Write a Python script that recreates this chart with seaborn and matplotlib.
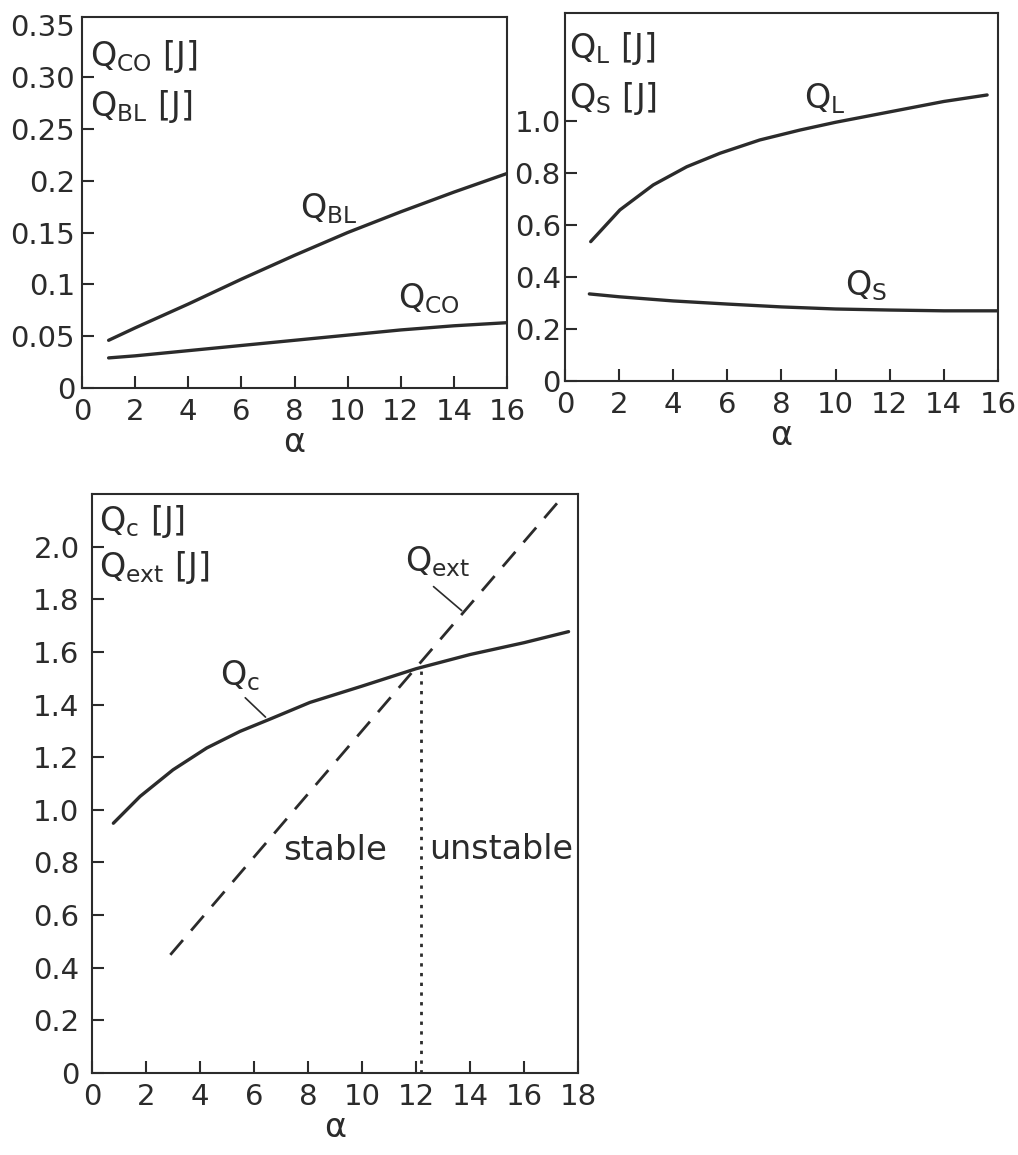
import numpy as np
import matplotlib
matplotlib.use("Agg")
import matplotlib.pyplot as plt
import seaborn as sns

# ---- data: heat quantities [J] against alpha ----
alpha_bl = [1, 2, 4, 6, 8, 10, 12, 14, 16]
q_bl = [0.046, 0.058, 0.081, 0.105, 0.128, 0.150, 0.170, 0.189, 0.207]
alpha_co = [1, 2, 4, 6, 8, 10, 12, 14, 16]
q_co = [0.029, 0.031, 0.036, 0.041, 0.046, 0.051, 0.056, 0.060, 0.063]

alpha_l = [0.95, 2.03, 3.26, 4.5, 5.73, 7.2, 8.68, 10, 12, 14, 15.6]
q_l = [0.536, 0.658, 0.754, 0.824, 0.876, 0.927, 0.965, 0.995, 1.035, 1.075, 1.10]
alpha_s = [0.9, 2, 4, 6, 8, 10, 12, 14, 16]
q_s = [0.335, 0.324, 0.308, 0.296, 0.285, 0.277, 0.273, 0.270, 0.270]

alpha_c = [0.79, 1.78, 3.0, 4.25, 5.48, 6.6, 8.07, 10, 12, 14, 16, 17.65]
q_c = [0.949, 1.051, 1.152, 1.235, 1.298, 1.345, 1.408, 1.47, 1.536, 1.59, 1.635, 1.677]
alpha_ext = [2.9, 12.0, 17.6]
q_ext = [0.449, 1.54, 2.21]
alpha_crit = 12.2

# tick positions and labels
xt_top = list(range(0, 17, 2))
xt_bottom = list(range(0, 19, 2))
yt_a = [0, 0.05, 0.1, 0.15, 0.2, 0.25, 0.30, 0.35]
yl_a = ["0", "0.05", "0.1", "0.15", "0.2", "0.25", "0.30", "0.35"]
yt_b = [0, 0.2, 0.4, 0.6, 0.8, 1.0]
yl_b = ["0", "0.2", "0.4", "0.6", "0.8", "1.0"]
yt_c = [0, 0.2, 0.4, 0.6, 0.8, 1.0, 1.2, 1.4, 1.6, 1.8, 2.0]
yl_c = ["0", "0.2", "0.4", "0.6", "0.8", "1.0", "1.2", "1.4", "1.6", "1.8", "2.0"]

sns.set_theme(style="white")
plt.rcParams["font.family"] = ["DejaVu Sans"]
plt.rcParams["mathtext.fontset"] = "dejavusans"
plt.rcParams["mathtext.default"] = "regular"

ink = "#2b2b2b"
fig = plt.figure(figsize=(10.18, 11.55), dpi=100)
fig.patch.set_facecolor("white")

ax1 = fig.add_axes([0.0806, 0.6641, 0.4175, 0.3212])
ax2 = fig.add_axes([0.5550, 0.6701, 0.4253, 0.3186])
ax3 = fig.add_axes([0.0904, 0.0710, 0.4774, 0.5013])


def style_axes(ax, xticks, yticks, ylabels, ylim, xlim, ypad):
    ax.set_xlim(*xlim)
    ax.set_ylim(*ylim)
    ax.set_xticks(xticks)
    ax.set_xticklabels([str(t) for t in xticks])
    ax.set_yticks(yticks)
    ax.set_yticklabels(ylabels)
    for sp in ax.spines.values():
        sp.set_visible(True)
        sp.set_color(ink)
        sp.set_linewidth(1.5)
    ax.tick_params(axis="both", which="major", direction="in", length=8.5,
                   width=1.5, color=ink, labelcolor=ink, labelsize=21,
                   bottom=True, left=True, top=False, right=False)
    ax.tick_params(axis="x", pad=7)
    ax.tick_params(axis="y", pad=ypad)
    ax.set_xlabel("α", fontsize=24, color=ink, labelpad=0)
    ax.set_ylabel("")
    ax.grid(False)
    ax.set_facecolor("white")


def label(ax, x, y, s, size=24):
    ax.text(x, y, s, fontsize=size, color=ink, ha="left", va="baseline")


# ---- panel 1: Q_BL and Q_CO ----
sns.lineplot(x=alpha_bl, y=q_bl, ax=ax1, color=ink, lw=2.4)
sns.lineplot(x=alpha_co, y=q_co, ax=ax1, color=ink, lw=2.4)
style_axes(ax1, xt_top, yt_a, yl_a, (0, 0.358), (0, 16), 5)
ax1.yaxis.get_major_ticks()[-1].tick1line.set_visible(False)
label(ax1, 0.3, 0.311, "$Q_{CO}$ [J]")
label(ax1, 0.3, 0.2626, "$Q_{BL}$ [J]")
label(ax1, 8.2, 0.1635, "$Q_{BL}$")
label(ax1, 11.9, 0.077, "$Q_{CO}$")

# ---- panel 2: Q_L and Q_S ----
sns.lineplot(x=alpha_l, y=q_l, ax=ax2, color=ink, lw=2.4)
sns.lineplot(x=alpha_s, y=q_s, ax=ax2, color=ink, lw=2.4)
style_axes(ax2, xt_top, yt_b, yl_b, (0, 1.415), (0, 16), 3)
label(ax2, 0.15, 1.242, "$Q_{L}$ [J]")
label(ax2, 0.15, 1.05, "$Q_{S}$ [J]")
label(ax2, 8.85, 1.05, "$Q_{L}$")
label(ax2, 10.33, 0.331, "$Q_{S}$")

# ---- panel 3: Q_c against Q_ext, stability limit ----
sns.lineplot(x=alpha_c, y=q_c, ax=ax3, color=ink, lw=2.4)
sns.lineplot(x=alpha_ext, y=q_ext, ax=ax3, color=ink, lw=2.0,
             linestyle=(0, (7, 4.5)))
q_crit = float(np.interp(alpha_crit, alpha_c, q_c))
ax3.vlines(alpha_crit, 0, q_crit, colors=ink, linewidth=2.0,
           linestyles=(0, (1.2, 2.3)))
style_axes(ax3, xt_bottom, yt_c, yl_c, (0, 2.2), (0, 18), 9)
label(ax3, 0.26, 2.06, "$Q_{c}$ [J]")
label(ax3, 0.26, 1.886, "$Q_{ext}$ [J]")
label(ax3, 4.74, 1.475, "$Q_{c}$")
label(ax3, 11.6, 1.905, "$Q_{ext}$")
label(ax3, 7.09, 0.81, "stable", size=24.5)
label(ax3, 12.5, 0.813, "unstable", size=24)
ax3.annotate("", xy=(6.5, 1.345), xytext=(5.6, 1.433),
             arrowprops=dict(arrowstyle="-", color=ink, lw=1.2))
ax3.annotate("", xy=(13.77, 1.75), xytext=(12.57, 1.855),
             arrowprops=dict(arrowstyle="-", color=ink, lw=1.2))

fig.savefig("out.png", dpi=100, facecolor="white")
